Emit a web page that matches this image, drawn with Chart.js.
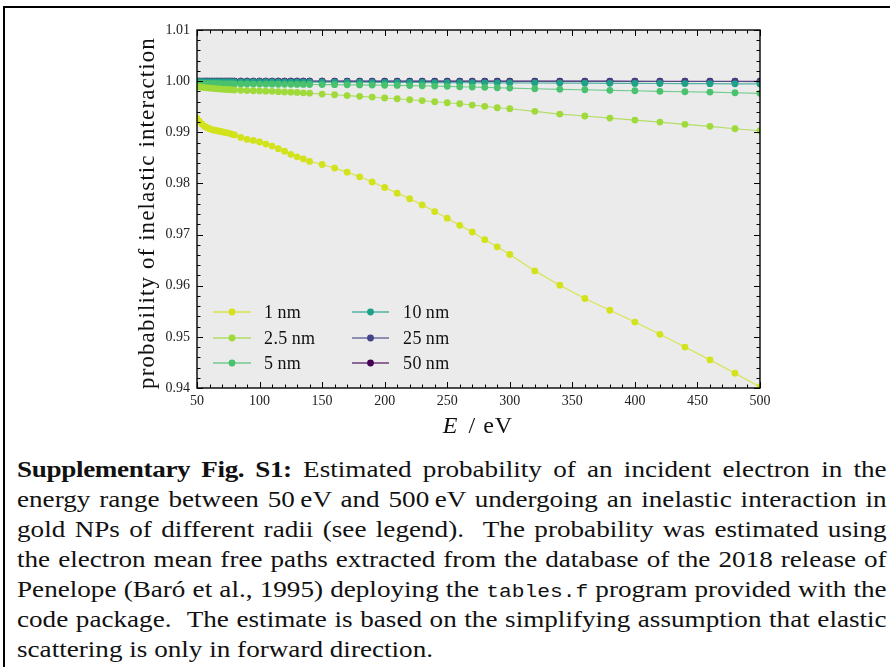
<!DOCTYPE html>
<html>
<head>
<meta charset="utf-8">
<script src="https://cdn.jsdelivr.net/npm/chart.js@4.4.0/dist/chart.umd.min.js"></script>
<style>
  html, body { margin: 0; padding: 0; background: #fff; }
  body { width: 890px; height: 667px; position: relative; overflow: hidden; }
  #frame { position: absolute; left: 3px; top: 6px; width: 950px; height: 700px;
           border-left: 2px solid #000; border-top: 2px solid #000; }
  #plot { position: absolute; left: 0; top: 0; }
  #caption { position: absolute; left: 17px; top: 455px;
             font-family: "Liberation Serif", serif; font-size: 23px; color: #111; }
  /* wide text face: each line is stretched sideways, then justified */
  #caption div { width: 737px; height: 30px; line-height: 30px; white-space: nowrap;
                 word-spacing: -1.5px;
                 transform: scaleX(1.18); transform-origin: 0 0;
                 text-align: justify; text-align-last: justify; }
  #caption div.last { text-align: left; text-align-last: left; word-spacing: 0; }
  #caption b { letter-spacing: -0.3px; }
  #caption tt { font-family: "Liberation Mono", monospace; font-size: 18px; }
</style>
</head>
<body>
<div id="frame"></div>
<canvas id="plot" width="890" height="445"></canvas>
<div id="caption">
  <div><b>Supplementary Fig. S1:</b> Estimated probability of an incident electron in the</div>
  <div>energy range between 50&#8201;eV and 500&#8201;eV undergoing an inelastic interaction in</div>
  <div>gold NPs of different radii (see legend). &nbsp;The probability was estimated using</div>
  <div>the electron mean free paths extracted from the database of the 2018 release of</div>
  <div>Penelope (Baró et al., 1995) deploying the <tt>tables.f</tt> program provided with the</div>
  <div>code package. &nbsp;The estimate is based on the simplifying assumption that elastic</div>
  <div class="last">scattering is only in forward direction.</div>
</div>
<script>
// electron energies in eV
const energies = [
  50, 52, 54, 56, 58, 60, 62, 64, 66, 68, 70, 72, 74, 76, 78, 80,
  85, 90, 95, 100, 105, 110, 115, 120, 125, 130, 135, 140,
  150, 160, 170, 180, 190, 200, 210, 220, 230, 240, 250, 260, 270, 280, 290, 300,
  320, 340, 360, 380, 400, 420, 440, 460, 480, 500
];

// probability of an inelastic interaction for each NP radius
const prob1nm = [
  0.9927, 0.9921, 0.9916, 0.9912, 0.9909, 0.9907, 0.9905, 0.9904, 0.9903, 0.9902, 0.9901, 0.9900, 0.9899, 0.9898, 0.9896, 0.9895,
  0.9890, 0.9886, 0.9884, 0.9881, 0.9877, 0.9873, 0.9868, 0.9863, 0.9857, 0.9852, 0.9848, 0.9843,
  0.9837, 0.9830, 0.9822, 0.9813, 0.9803, 0.9792, 0.9781, 0.9770, 0.9758, 0.9745, 0.9732, 0.9718, 0.9705, 0.9690, 0.9676, 0.9661,
  0.9629, 0.9601, 0.9575, 0.9552, 0.9529, 0.9505, 0.9480, 0.9455, 0.9429, 0.9402
];
const prob2_5nm = [
  0.9989, 0.99885, 0.9988, 0.99875, 0.9987, 0.99865, 0.9986, 0.99855, 0.9985, 0.99847, 0.99844, 0.9984, 0.99837, 0.99834, 0.9983, 0.99827,
  0.9982, 0.99816, 0.99812, 0.99808, 0.99804, 0.998, 0.99795, 0.9979, 0.99785, 0.9978, 0.99772, 0.99765,
  0.99748, 0.99734, 0.99717, 0.99703, 0.99689, 0.9967, 0.99656, 0.99636, 0.9962, 0.99597, 0.99578, 0.99558, 0.99533, 0.99507, 0.9948, 0.9946,
  0.99409, 0.99357, 0.99318, 0.99278, 0.99239, 0.992, 0.99155, 0.99116, 0.99069, 0.9903
];
const prob5nm = [
  0.99956, 0.99955, 0.99954, 0.99953, 0.99952, 0.99951, 0.9995, 0.9995, 0.99949, 0.99949, 0.99948, 0.99948, 0.99947, 0.99947, 0.99946, 0.99946,
  0.99945, 0.99944, 0.99943, 0.99942, 0.99941, 0.9994, 0.99939, 0.99938, 0.99937, 0.99936, 0.99935, 0.99934,
  0.99932, 0.9993, 0.99928, 0.99926, 0.99923, 0.9992, 0.99917, 0.99914, 0.9991, 0.99904, 0.99898, 0.9989, 0.99885, 0.99879, 0.99871, 0.99865,
  0.99851, 0.9984, 0.99832, 0.9982, 0.99812, 0.998, 0.99793, 0.99787, 0.99773, 0.99761
];
const prob10nm = [
  0.99988, 0.99988, 0.99988, 0.99987, 0.99987, 0.99987, 0.99987, 0.99986, 0.99986, 0.99986, 0.99986, 0.99986, 0.99985, 0.99985, 0.99985, 0.99985,
  0.99984, 0.99984, 0.99984, 0.99983, 0.99983, 0.99983, 0.99982, 0.99982, 0.99982, 0.99981, 0.99981, 0.9998,
  0.9998, 0.99979, 0.99978, 0.99978, 0.99977, 0.99976, 0.99975, 0.99974, 0.99973, 0.99972, 0.99971, 0.9997, 0.99969, 0.99968, 0.99967, 0.99966,
  0.99964, 0.99962, 0.9996, 0.99958, 0.99956, 0.99954, 0.99952, 0.9995, 0.99948, 0.99946
];
const prob25nm = [
  0.99999, 0.99999, 0.99999, 0.99999, 0.99999, 0.99999, 0.99999, 0.99999, 0.99999, 0.99999, 0.99999, 0.99999, 0.99999, 0.99999, 0.99999, 0.99999,
  0.99998, 0.99998, 0.99998, 0.99998, 0.99998, 0.99998, 0.99998, 0.99998, 0.99998, 0.99998, 0.99998, 0.99998,
  0.99998, 0.99997, 0.99997, 0.99997, 0.99997, 0.99997, 0.99997, 0.99997, 0.99996, 0.99996, 0.99996, 0.99996, 0.99996, 0.99996, 0.99995, 0.99995,
  0.99995, 0.99995, 0.99994, 0.99994, 0.99994, 0.99993, 0.99993, 0.99993, 0.99993, 0.99992
];
const prob50nm = [
  1.0, 1.0, 1.0, 1.0, 1.0, 1.0, 1.0, 1.0, 1.0, 1.0, 1.0, 1.0, 1.0, 1.0, 1.0, 1.0,
  1.0, 1.0, 1.0, 1.0, 1.0, 1.0, 1.0, 1.0, 1.0, 1.0, 1.0, 1.0,
  0.99999, 0.99999, 0.99999, 0.99999, 0.99999, 0.99999, 0.99999, 0.99999, 0.99999, 0.99999, 0.99999, 0.99999, 0.99999, 0.99999, 0.99999, 0.99999,
  0.99999, 0.99999, 0.99999, 0.99999, 0.99998, 0.99998, 0.99998, 0.99998, 0.99998, 0.99998
];

const radiusLabels = ['1\u2009nm', '2.5\u2009nm', '5\u2009nm', '10\u2009nm', '25\u2009nm', '50\u2009nm'];
const radiusColors = ['#d2e21b', '#9fda3a', '#4ac16d', '#1fa187', '#414487', '#440154'];
const allProbs = [prob1nm, prob2_5nm, prob5nm, prob10nm, prob25nm, prob50nm];

const xTicks = [50, 100, 150, 200, 250, 300, 350, 400, 450, 500];
const yTicks = [0.94, 0.95, 0.96, 0.97, 0.98, 0.99, 1.00, 1.01];

const serif = '"Liberation Serif", serif';

function fade(hex, a) {
  const n = parseInt(hex.slice(1), 16);
  return `rgba(${n >> 16}, ${(n >> 8) & 255}, ${n & 255}, ${a})`;
}

function toPoints(values) {
  return energies.map((e, i) => ({ x: e, y: values[i] }));
}

// default draw order keeps the smaller radii on top
const datasets = allProbs.map((values, i) => ({
  label: radiusLabels[i],
  data: toPoints(values),
  borderColor: fade(radiusColors[i], 0.75),
  backgroundColor: radiusColors[i],
  pointBackgroundColor: radiusColors[i],
  pointBorderWidth: 0,
  pointRadius: 3.4,
  borderWidth: 1.2,
  tension: 0
}));

// grey axes box, inward ticks on all four sides, titles and legend
const axesDecor = {
  id: 'axesDecor',
  beforeDatasetsDraw(chart) {
    const { ctx, chartArea: a } = chart;
    ctx.save();
    ctx.fillStyle = '#ebebeb';
    ctx.fillRect(a.left, a.top, a.right - a.left, a.bottom - a.top);
    ctx.restore();
  },
  afterDraw(chart) {
    const { ctx, chartArea: a, scales: { x, y } } = chart;
    ctx.save();
    ctx.strokeStyle = '#000';
    ctx.lineWidth = 1;
    ctx.beginPath();
    for (let e = 50; e <= 500; e += 10) {
      const px = Math.round(x.getPixelForValue(e)) + 0.5;
      const len = e % 50 === 0 ? 6 : 3.5;
      ctx.moveTo(px, a.bottom); ctx.lineTo(px, a.bottom - len);
      ctx.moveTo(px, a.top); ctx.lineTo(px, a.top + len);
    }
    for (let k = 0; k <= 35; k++) {
      const py = Math.round(y.getPixelForValue(0.94 + k * 0.002)) + 0.5;
      const len = k % 5 === 0 ? 6 : 3.5;
      ctx.moveTo(a.left, py); ctx.lineTo(a.left + len, py);
      ctx.moveTo(a.right, py); ctx.lineTo(a.right - len, py);
    }
    ctx.stroke();
    ctx.lineWidth = 1.4;
    ctx.strokeRect(a.left, a.top, a.right - a.left, a.bottom - a.top);

    // legend, two columns in the lower left corner
    const rows = [312, 338, 363];
    ctx.font = '18px ' + serif;
    ctx.letterSpacing = '0.4px';
    ctx.textBaseline = 'middle';
    ctx.textAlign = 'left';
    chart.data.datasets.forEach((ds, i) => {
      const col = i < 3 ? 0 : 1;
      const ry = rows[i % 3];
      const x0 = col ? 352 : 213;
      const x1 = col ? 389 : 251;
      const mx = (x0 + x1) / 2;
      ctx.strokeStyle = ds.borderColor;
      ctx.lineWidth = 1.5;
      ctx.beginPath(); ctx.moveTo(x0, ry); ctx.lineTo(x1, ry); ctx.stroke();
      ctx.fillStyle = ds.pointBackgroundColor;
      ctx.beginPath(); ctx.arc(mx, ry, 3.4, 0, Math.PI * 2); ctx.fill();
      ctx.fillStyle = '#111';
      ctx.fillText(ds.label, col ? 403 : 264, ry + 1);
    });

    // y axis title
    ctx.save();
    ctx.translate(148, 213);
    ctx.rotate(-Math.PI / 2);
    ctx.font = '23px ' + serif;
    ctx.letterSpacing = '1.1px';
    ctx.textAlign = 'center';
    ctx.fillStyle = '#111';
    ctx.fillText('probability of inelastic interaction', 0, 0);
    ctx.restore();

    // x axis title: italic E / eV
    ctx.letterSpacing = '1px';
    ctx.font = 'italic 24px ' + serif;
    const wE = ctx.measureText('E').width;
    ctx.font = '24px ' + serif;
    const rest = ' / eV';
    const wR = ctx.measureText(rest).width;
    const start = 478 - (wE + wR + 3) / 2;
    ctx.textBaseline = 'alphabetic';
    ctx.fillStyle = '#111';
    ctx.font = 'italic 24px ' + serif;
    ctx.fillText('E', start, 433);
    ctx.font = '24px ' + serif;
    ctx.fillText(rest, start + wE + 3, 433);
    ctx.restore();
  }
};

new Chart(document.getElementById('plot').getContext('2d'), {
  type: 'line',
  data: { datasets: datasets },
  options: {
    responsive: false,
    animation: false,
    devicePixelRatio: 1,
    layout: { padding: { left: 0, top: 30, right: 130, bottom: 0 } },
    plugins: { legend: { display: false }, tooltip: { enabled: false } },
    scales: {
      x: {
        type: 'linear',
        min: 50,
        max: 500,
        afterBuildTicks: s => { s.ticks = xTicks.map(v => ({ value: v })); },
        afterFit: s => { s.height = 57; },
        ticks: { font: { family: serif, size: 14 }, color: '#222', padding: 5, maxRotation: 0 },
        grid: { display: false, drawTicks: false },
        border: { display: false }
      },
      y: {
        type: 'linear',
        min: 0.94,
        max: 1.01,
        afterBuildTicks: s => { s.ticks = yTicks.map(v => ({ value: v })); },
        afterFit: s => { s.width = 197; },
        ticks: {
          font: { family: serif, size: 14 }, color: '#222', padding: 7,
          callback: v => v.toFixed(2)
        },
        grid: { display: false, drawTicks: false },
        border: { display: false }
      }
    }
  },
  plugins: [axesDecor]
});
</script>
</body>
</html>
